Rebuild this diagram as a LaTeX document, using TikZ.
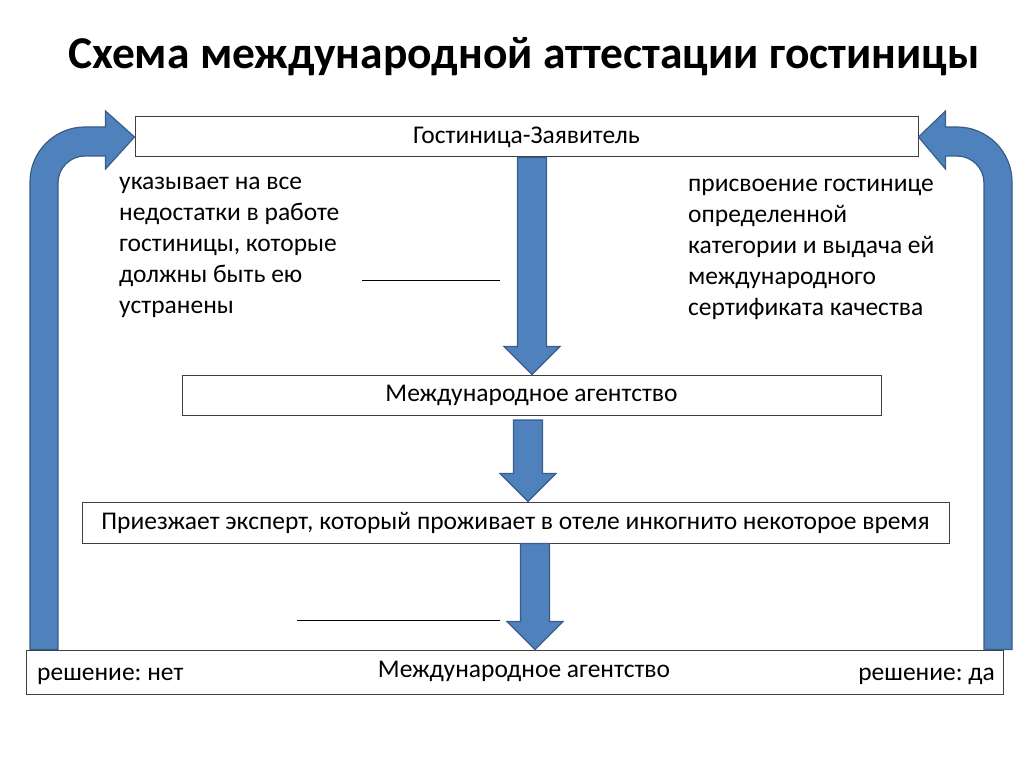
\documentclass[tikz,border=0pt]{standalone}
\usepackage{fontspec}
\setmainfont{Carlito}
\usetikzlibrary{calc}
\frenchspacing

\definecolor{arrblue}{HTML}{4F81BD}
\definecolor{arrline}{HTML}{385D8A}

% block arrow downwards: #1 start coordinate, #2 target node anchor
\newcommand{\blockdown}[2]{%
  \coordinate (bs) at (#1);
  \coordinate (bt) at (#1 |- #2);
  \draw[blockarr] ($(bs)+(-14.5,0)$) -- ($(bt)+(-14.5,-28)$) -- ($(bt)+(-28,-28)$)
    -- (bt) -- ($(bt)+(28,-28)$) -- ($(bt)+(14.5,-28)$) -- ($(bs)+(14.5,0)$) -- cycle;
}

\begin{document}
\begin{tikzpicture}[x=1pt, y=-1pt,
  box/.style={draw=black!75, line width=1pt, fill=white, inner sep=0pt,
    font=\fontsize{25.5}{30}\selectfont},
  label/.style={font=\fontsize{25.5}{30}\selectfont, inner sep=0pt},
  blockarr/.style={fill=arrblue, draw=arrline, line width=1.2pt, line join=miter},
  note/.style={align=left, inner sep=0pt, anchor=north west,
    font=\fontsize{25.5}{31}\selectfont}]

  \useasboundingbox (0,0) rectangle (1024,767);

  % Title
  \node[font=\fontsize{45.5}{50}\bfseries\selectfont] (title) at (524,57)
    {Схема международной аттестации гостиницы};

  % Boxes
  \node[box, minimum width=783pt, minimum height=40pt] (hotel) at (526.5,137)
    {Гостиница-Заявитель};
  \node[box, minimum width=699pt, minimum height=40pt] (agency) at (531.5,395)
    {Международное агентство};
  \node[box, minimum width=867pt, minimum height=41pt] (expert) at (515.5,522.5)
    {Приезжает эксперт, который проживает в отеле инкогнито некоторое время};
  \node[box, minimum width=977pt, minimum height=44pt] (final) at (514.5,672) {};

  % Texts in the last box
  \node[label] (fagency) at (524,671) {Международное агентство};
  \node[label, anchor=west] (no) at (37,676) {решение: нет};
  \node[label, anchor=east] (yes) at (995,676) {решение: да};

  % Side notes
  \node[note] (left) at (119,177)
    {указывает на все\\недостатки в работе\\гостиницы, которые\\должны быть ею\\устранены};
  \node[note] (right) at (688,179)
    {присвоение гостинице\\определенной\\категории и выдача ей\\международного\\сертификата качества};

  % Blank lines
  \draw[line width=1pt] (362,280) -- (500,280);
  \draw[line width=1pt] (297,620) -- (500,620);

  % Straight arrows
  \coordinate (a1) at (hotel.south -| 532,0);
  \blockdown{a1}{agency.north}
  \coordinate (a2) at (528,420);
  \blockdown{a2}{expert.north}
  \coordinate (a3) at (expert.south -| 535,0);
  \blockdown{a3}{final.north}

  % Curved arrow: no
  \draw[blockarr] (final.north -| 30,0) -- (30,182) arc[start angle=180, end angle=270, radius=55]
    -- ($(hotel.west)+(-29,-10)$) -- ($(hotel.west)+(-29,-26)$) -- (hotel.west)
    -- ($(hotel.west)+(-29,32)$) -- ($(hotel.west)+(-29,19)$) -- (85,156)
    arc[start angle=270, end angle=180, radius=27] -- (58,183) -- (final.north -| 58,0) -- cycle;

  % Curved arrow: yes
  \draw[blockarr] (final.north -| 1012,0) -- (1012,182) arc[start angle=0, end angle=-90, radius=55]
    -- ($(hotel.east)+(27,-10)$) -- ($(hotel.east)+(27,-26)$) -- (hotel.east)
    -- ($(hotel.east)+(27,32)$) -- ($(hotel.east)+(27,19)$) -- (957,156)
    arc[start angle=-90, end angle=0, radius=27] -- (984,183) -- (final.north -| 984,0) -- cycle;

\end{tikzpicture}
\end{document}
